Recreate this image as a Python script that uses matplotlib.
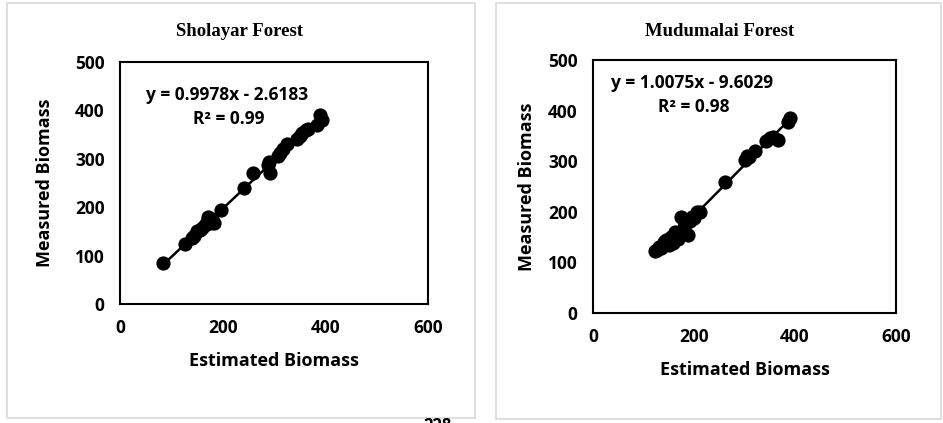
import numpy as np
import matplotlib.pyplot as plt
from matplotlib.patches import Rectangle

# --- data
sholayar_est = [83, 126, 140, 145, 150, 155, 160, 165, 170, 172, 176, 180, 183, 197,
                242, 260, 288, 290, 292, 308, 312, 318, 325, 344, 350, 355, 362, 366,
                383, 390, 393]
sholayar_meas = [84, 123, 137, 140, 150, 152, 158, 163, 170, 180, 168, 175, 167, 194,
                 239, 271, 287, 294, 270, 306, 312, 321, 330, 340, 347, 353, 359, 362,
                 370, 390, 380]
sholayar_fit = (0.9978, -2.6183)

mudumalai_est = [122, 126, 130, 135, 140, 145, 150, 155, 158, 162, 168, 175, 180, 183,
                 188, 192, 196, 200, 205, 212, 261, 300, 304, 308, 320, 343, 350, 356,
                 366, 386, 390]
mudumalai_meas = [122, 125, 130, 128, 140, 145, 134, 150, 138, 160, 147, 190, 170, 160,
                  155, 182, 190, 187, 200, 200, 259, 302, 310, 308, 320, 340, 345, 348,
                  342, 378, 386]
mudumalai_fit = (1.0075, -9.6029)

ticks_x = [0, 200, 400, 600]
ticks_y = [0, 100, 200, 300, 400, 500]

W, H = 943, 423
fig = plt.figure(figsize=(W / 100, H / 100), dpi=100)

sans = 'Open Sans'
serif = 'Liberation Serif'


def px(x0, y0, x1, y1):
    # pixel box -> figure fraction [left, bottom, width, height]
    return [x0 / W, 1 - y1 / H, (x1 - x0) / W, (y1 - y0) / H]


# light grey frames round each chart
for (x0, y0, x1, y1) in [(7, 3, 475, 418), (496, 3, 941, 419)]:
    fig.patches.append(Rectangle((x0 / W, 1 - y1 / H), (x1 - x0) / W, (y1 - y0) / H,
                                 transform=fig.transFigure, fill=False,
                                 edgecolor='#d9d9d9', linewidth=1.2))

panels = [
    ('Sholayar Forest', sholayar_est, sholayar_meas, sholayar_fit, '0.99',
     (120, 62, 428, 304), 240, (227, 95), 45),
    ('Mudumalai Forest', mudumalai_est, mudumalai_meas, mudumalai_fit, '0.98',
     (593, 60, 896, 313), 720, (692, 83), 527),
]

for title, est, meas, fit, r2, box, title_x, eq_xy, ylab_x in panels:
    ax = fig.add_axes(px(*box))
    est = np.array(est)
    ax.scatter(est, meas, s=105, color='black', zorder=3, linewidths=0)
    xs = np.array([est.min(), est.max()])
    ax.plot(xs, fit[0] * xs + fit[1], color='black', linewidth=1.8, zorder=2)

    ax.set_xlim(0, 600)
    ax.set_ylim(0, 500)
    ax.set_xticks(ticks_x)
    ax.set_yticks(ticks_y)
    ax.tick_params(length=0, pad=11)
    for lab in ax.get_xticklabels() + ax.get_yticklabels():
        lab.set_fontfamily(sans)
        lab.set_fontweight('bold')
        lab.set_fontsize(12.5)
    for sp in ax.spines.values():
        sp.set_linewidth(1.5)

    ax.set_xlabel('Estimated Biomass', fontfamily=sans, fontweight='bold', fontsize=13)
    ax.set_ylabel('Measured Biomass', fontfamily=sans, fontweight='bold', fontsize=13)
    bw = box[2] - box[0]
    bh = box[3] - box[1]
    ax.xaxis.set_label_coords(0.5, -57 / bh)
    ax.yaxis.set_label_coords((ylab_x - box[0]) / bw, 0.5)
    ax.xaxis.label.set_va('center')
    ax.yaxis.label.set_va('center')

    fig.text(title_x / W, 1 - 32 / H, title, fontfamily=serif, fontweight='bold',
             fontsize=13.5, ha='center', va='center')
    sign = '-' if fit[1] < 0 else '+'
    fig.text(eq_xy[0] / W, 1 - eq_xy[1] / H,
             f'y = {fit[0]:.4f}x {sign} {abs(fit[1]):.4f}',
             fontfamily=sans, fontweight='bold', fontsize=12.5, ha='center', va='center')
    fig.text((eq_xy[0] + 2) / W, 1 - (eq_xy[1] + 24) / H, f'R² = {r2}',
             fontfamily=sans, fontweight='bold', fontsize=12.5, ha='center', va='center')

# page number cut off at the bottom of the scan
fig.text(438 / W, 1 - 417 / H, '228', fontfamily=sans, fontweight='bold',
         fontsize=12, ha='center', va='top')

fig.savefig('out.png', dpi=100, facecolor='white')
